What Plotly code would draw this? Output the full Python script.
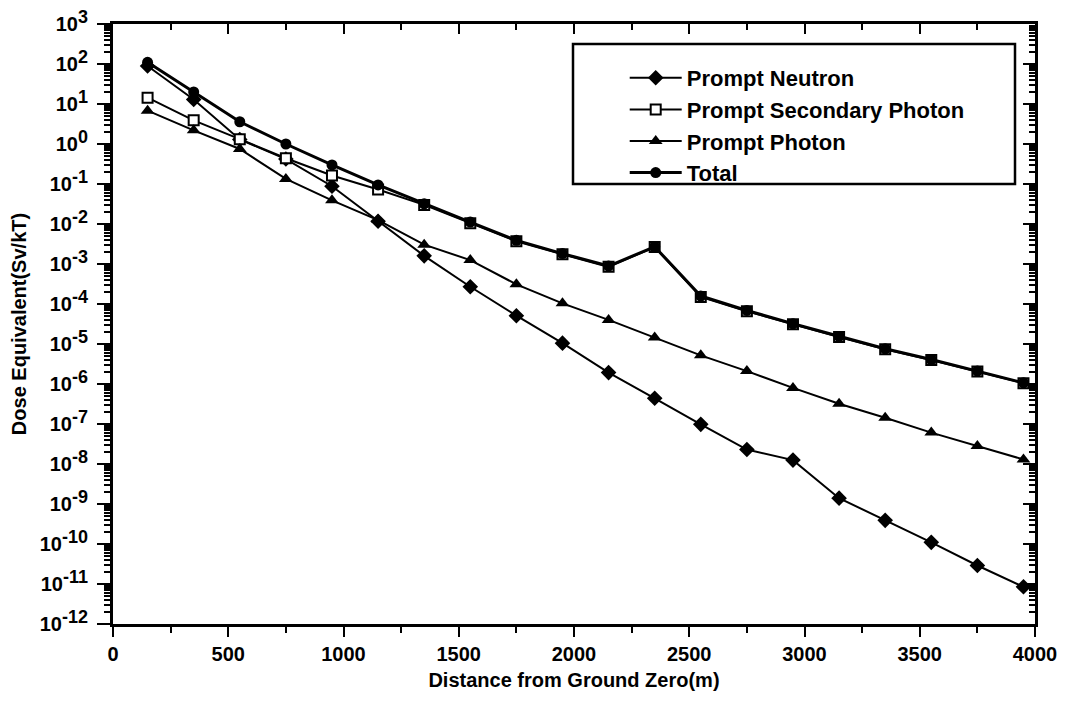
import plotly.graph_objects as go

distance = [150, 350, 550, 750, 950, 1150, 1350, 1550, 1750, 1950,
            2150, 2350, 2550, 2750, 2950, 3150, 3350, 3550, 3750, 3950]

prompt_neutron = [89, 13, 1.3, 0.42, 0.088, 0.0117, 1.6e-3, 2.7e-4, 5.1e-5, 1.05e-5,
                  1.93e-6, 4.4e-7, 9.8e-8, 2.3e-8, 1.25e-8, 1.4e-9, 3.9e-10, 1.1e-10, 2.9e-11, 8.5e-12]

prompt_secondary_photon = [14.4, 3.9, 1.32, 0.44, 0.163, 0.073, 0.030, 0.0105, 0.0037, 1.75e-3,
                           8.5e-4, 2.65e-3, 1.5e-4, 6.6e-5, 3.1e-5, 1.5e-5, 7.4e-6, 4.0e-6, 2.05e-6, 1.05e-6]

prompt_photon = [6.8, 2.2, 0.75, 0.134, 0.039, 0.0125, 3.05e-3, 1.25e-3, 3.1e-4, 1.04e-4,
                 4.0e-5, 1.46e-5, 5.2e-6, 2.1e-6, 8.0e-7, 3.2e-7, 1.44e-7, 6.1e-8, 2.8e-8, 1.3e-8]

total = [110, 20, 3.6, 1.0, 0.30, 0.095, 0.032, 0.0112, 0.0039, 1.82e-3,
         8.9e-4, 2.7e-3, 1.58e-4, 6.9e-5, 3.2e-5, 1.55e-5, 7.6e-6, 4.1e-6, 2.1e-6, 1.07e-6]

x_ticks = [0, 500, 1000, 1500, 2000, 2500, 3000, 3500, 4000]
y_exponents = list(range(-12, 4))
y_tick_vals = [10.0 ** e for e in y_exponents]
y_tick_text = ["10<sup><span style='font-size:18px'>%d</span></sup>" % e for e in y_exponents]

FONT = "Liberation Sans, Arial, sans-serif"

fig = go.Figure()

fig.add_trace(go.Scatter(
    x=distance, y=prompt_neutron, name="Prompt Neutron", mode="lines+markers",
    line=dict(color="black", width=2),
    marker=dict(symbol="diamond", size=12, color="black"),
    legendgroup="a"))
fig.add_trace(go.Scatter(
    x=distance, y=prompt_secondary_photon, name="Prompt Secondary Photon", mode="lines+markers",
    line=dict(color="black", width=2),
    marker=dict(symbol="square", size=10, color="white", line=dict(color="black", width=2)),
    legendgroup="b"))
fig.add_trace(go.Scatter(
    x=distance, y=prompt_photon, name="Prompt Photon", mode="lines+markers",
    line=dict(color="black", width=2),
    marker=dict(symbol="triangle-up", size=12, color="black"),
    legendgroup="c"))
fig.add_trace(go.Scatter(
    x=distance, y=total, name="Total", mode="lines+markers",
    line=dict(color="black", width=3),
    marker=dict(symbol="circle", size=11, color="black"),
    legendgroup="d"))

# empty trace to hold the mirrored (top/right) tick axes
fig.add_trace(go.Scatter(x=[], y=[], xaxis="x2", yaxis="y2", showlegend=False, hoverinfo="skip"))

fig.update_layout(
    width=1059, height=693,
    margin=dict(l=105, r=32, t=16, b=77),
    paper_bgcolor="white", plot_bgcolor="white",
    font=dict(family=FONT, size=20, color="black", weight="bold"),
    showlegend=True,
    legend=dict(
        x=0.555, y=0.945, xanchor="left", yanchor="top",
        bgcolor="rgba(0,0,0,0)", borderwidth=0,
        font=dict(family=FONT, size=22, color="black", weight="bold"),
        itemwidth=52, tracegroupgap=0,
    ),
    xaxis=dict(
        range=[0, 4000], tickvals=x_ticks, ticks="outside", ticklen=10, tickwidth=2,
        tickcolor="black", showline=True, linewidth=2.5, linecolor="black", mirror=True,
        showgrid=False, zeroline=False, automargin=False,
        tickfont=dict(family=FONT, size=20, color="black", weight="bold"),
        minor=dict(dtick=250, ticks="outside", ticklen=6, tickwidth=2, tickcolor="black", showgrid=False),
        title=dict(text="Distance from Ground Zero(m)", standoff=10,
                   font=dict(family=FONT, size=20, color="black", weight="bold")),
    ),
    yaxis=dict(
        type="log", range=[-12, 3], tickvals=y_tick_vals, ticktext=y_tick_text,
        ticks="outside", ticklen=13, tickwidth=2, tickcolor="black",
        showline=True, linewidth=3, linecolor="black", mirror=True,
        showgrid=False, zeroline=False, automargin=False,
        ticklabeloverflow="allow", ticklabelstandoff=5,
        tickfont=dict(family=FONT, size=20, color="black", weight="bold"),
        minor=dict(dtick="D1", ticks="outside", ticklen=6, tickwidth=2, tickcolor="black", showgrid=False),
        title=dict(text="Dose Equivalent(Sv/kT)", standoff=8,
                   font=dict(family=FONT, size=20, color="black", weight="bold")),
    ),
    xaxis2=dict(
        overlaying="x", anchor="y", side="top", range=[0, 4000], tickvals=x_ticks,
        ticks="inside", ticklen=10, tickwidth=2, tickcolor="black", showticklabels=False,
        showline=False, showgrid=False, zeroline=False, automargin=False,
        minor=dict(dtick=250, ticks="inside", ticklen=6, tickwidth=2, tickcolor="black", showgrid=False),
    ),
    yaxis2=dict(
        overlaying="y", anchor="x", side="right", type="log", range=[-12, 3], tickvals=y_tick_vals,
        ticks="inside", ticklen=12, tickwidth=2, tickcolor="black", showticklabels=False,
        showline=False, showgrid=False, zeroline=False, automargin=False,
        minor=dict(dtick="D1", ticks="inside", ticklen=6, tickwidth=2, tickcolor="black", showgrid=False),
    ),
    shapes=[dict(type="rect", xref="paper", yref="paper",
                 x0=(573 - 113) / 922, x1=(1015 - 113) / 922,
                 y0=(624 - 184) / 600, y1=(624 - 44) / 600,
                 line=dict(color="black", width=2.5), fillcolor="rgba(0,0,0,0)", layer="above")],
)

fig.write_html("out.html")
